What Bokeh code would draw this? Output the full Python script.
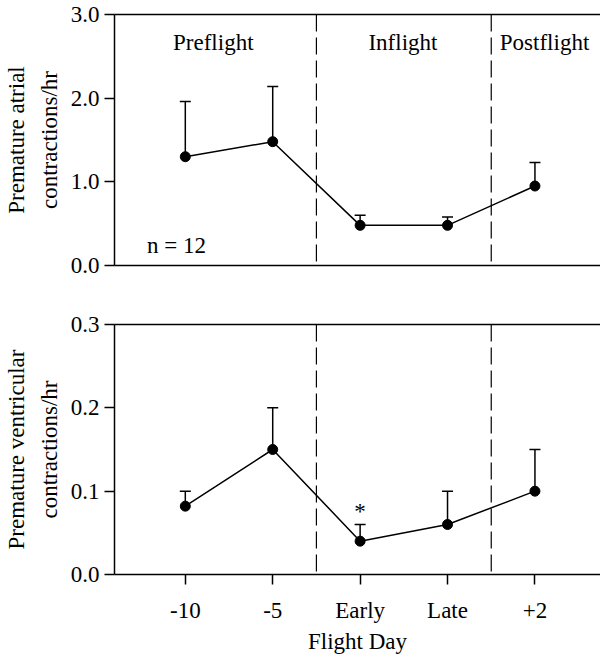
from bokeh.plotting import figure
from bokeh.layouts import column
from bokeh.models import (Range1d, FixedTicker, Span, Whisker, TeeHead,
                          ColumnDataSource, LinearAxis, Label, Title)
from bokeh.embed import file_html
from bokeh.resources import INLINE

categories = ["-10", "-5", "Early", "Late", "+2"]
cat_pos = [0, 1, 2, 3, 4]
pac_mean = [1.30, 1.48, 0.48, 0.48, 0.95]
pac_upper = [1.96, 2.14, 0.60, 0.58, 1.23]
pvc_mean = [0.082, 0.15, 0.04, 0.06, 0.10]
pvc_upper = [0.10, 0.20, 0.06, 0.10, 0.15]
top_ticks = [0.0, 1.0, 2.0, 3.0]
bot_ticks = [0.0, 0.1, 0.2, 0.3]
phase_names = ["Preflight", "Inflight", "Postflight"]
phase_x = [0.32, 2.49, 4.11]
phase_bounds = [1.5, 3.5]
top_ylabel = ["Premature atrial", "contractions/hr"]
bot_ylabel = ["Premature ventricular", "contractions/hr"]

FONT = "Liberation Serif"
FS = "23px"
XMIN, XMAX = -0.81, 4.75


def make_panel(mean, upper, ticks, ymax, height, top_border, bottom_border, ylabel, show_x):
    p = figure(width=600, height=height, output_backend="svg", toolbar_location=None,
               x_range=Range1d(XMIN, XMAX), y_range=Range1d(0, ymax),
               min_border_left=114, min_border_right=0,
               min_border_top=top_border, min_border_bottom=bottom_border)
    p.outline_line_color = None
    p.grid.visible = False
    p.background_fill_color = "white"
    p.border_fill_color = "white"

    ya = p.yaxis[0]
    ya.ticker = FixedTicker(ticks=ticks)
    ya.major_label_overrides = {t: f"{t:.1f}" for t in ticks}
    ya.major_tick_in = 0
    ya.major_tick_out = 10
    ya.minor_tick_line_color = None
    ya.axis_line_width = 1.5
    ya.major_tick_line_width = 1.5
    ya.major_label_text_font = FONT
    ya.major_label_text_font_size = FS
    ya.major_label_text_color = "black"
    ya.major_label_standoff = 5

    # two-line y title, each line centred: inner line first, outer line last
    for i, line in enumerate(reversed(ylabel)):
        p.add_layout(Title(text=line, align="center", text_font=FONT,
                           text_font_size=FS, text_font_style="normal",
                           text_color="black", standoff=12 if i == 0 else 0,
                           offset=0), "left")

    xa = p.xaxis[0]
    xa.axis_line_width = 1.5
    xa.minor_tick_line_color = None
    if show_x:
        xa.ticker = FixedTicker(ticks=cat_pos)
        xa.major_label_overrides = {c: l for c, l in zip(cat_pos, categories)}
        xa.major_tick_in = 0
        xa.major_tick_out = 10
        xa.major_tick_line_width = 1.5
        xa.major_label_text_font = FONT
        xa.major_label_text_font_size = FS
        xa.major_label_text_color = "black"
        xa.major_label_standoff = 13
        xa.axis_label = "Flight Day"
        xa.axis_label_text_font = FONT
        xa.axis_label_text_font_size = FS
        xa.axis_label_text_font_style = "normal"
        xa.axis_label_text_color = "black"
        xa.axis_label_standoff = 3
    else:
        xa.ticker = FixedTicker(ticks=[])
        xa.major_tick_line_color = None

    top = LinearAxis(ticker=FixedTicker(ticks=[]), axis_line_width=1.5,
                     major_tick_line_color=None, minor_tick_line_color=None)
    p.add_layout(top, "above")

    for b in phase_bounds:
        p.add_layout(Span(location=b, dimension="height", line_color="black",
                          line_width=1.2, line_dash="17 6"))

    src = ColumnDataSource(dict(x=cat_pos, y=mean, upper=upper))
    p.add_layout(Whisker(source=src, base="x", upper="upper", lower="y",
                         dimension="height", line_width=1.5, line_color="black",
                         upper_head=TeeHead(size=11, line_width=1.5, line_color="black"),
                         lower_head=None))
    p.line("x", "y", source=src, line_color="black", line_width=1.5)
    p.scatter("x", "y", source=src, size=10, color="black")
    return p


p1 = make_panel(pac_mean, pac_upper, top_ticks, 3.0, 300, 14, 35, top_ylabel, False)
for name, xp in zip(phase_names, phase_x):
    p1.add_layout(Label(x=xp, y=2.66, text=name, text_align="center",
                        text_baseline="middle", text_font=FONT,
                        text_font_size=FS, text_color="black"))
p1.add_layout(Label(x=-0.1, y=0.24, text="n = 12", text_align="center",
                    text_baseline="middle", text_font=FONT,
                    text_font_size=FS, text_color="black"))

p2 = make_panel(pvc_mean, pvc_upper, bot_ticks, 0.3, 358, 24, 84, bot_ylabel, True)
p2.add_layout(Label(x=2, y=0.076, text="*", text_align="center",
                    text_baseline="middle", text_font=FONT,
                    text_font_size=FS, text_color="black"))

layout = column(p1, p2, spacing=0)
open("out.html", "w").write(file_html(layout, INLINE))
